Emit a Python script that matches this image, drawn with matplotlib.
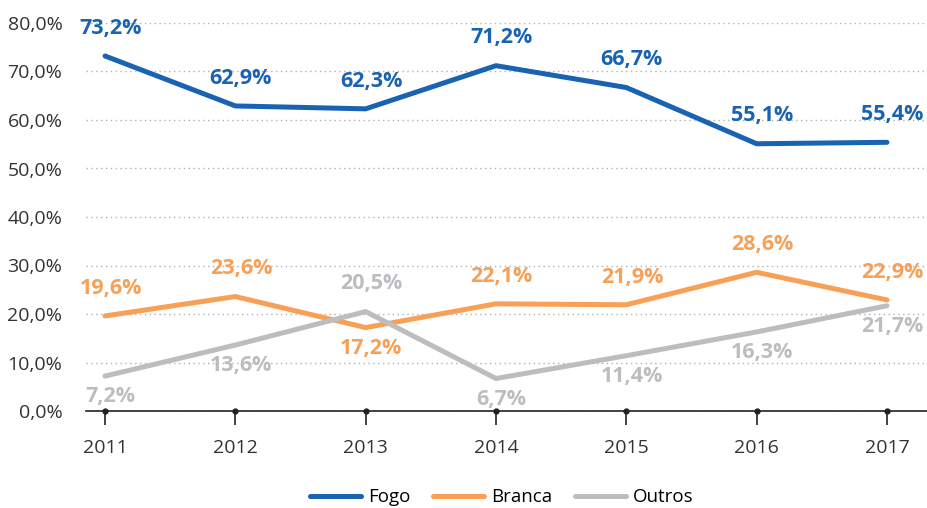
import matplotlib
matplotlib.use("Agg")
import matplotlib.pyplot as plt
from matplotlib.ticker import FuncFormatter

plt.rcParams['font.family'] = ['Open Sans', 'DejaVu Sans']

years = ['2011', '2012', '2013', '2014', '2015', '2016', '2017']
fogo = [73.2, 62.9, 62.3, 71.2, 66.7, 55.1, 55.4]
branca = [19.6, 23.6, 17.2, 22.1, 21.9, 28.6, 22.9]
outros = [7.2, 13.6, 20.5, 6.7, 11.4, 16.3, 21.7]

# label placement: 1 = above the point, -1 = below
fogo_pos = [1, 1, 1, 1, 1, 1, 1]
branca_pos = [1, 1, -1, 1, 1, 1, 1]
outros_pos = [-1, -1, 1, -1, -1, -1, -1]

c_fogo = '#1a63b2'
c_branca = '#f8a055'
c_outros = '#bdbdc1'

fig = plt.figure(figsize=(9.28, 5.08), dpi=100)
ax = fig.add_axes([86 / 928, 1 - 411 / 508, 1 - 86 / 928, (411 - 23) / 508])

x = list(range(len(years)))
series = [(fogo, fogo_pos, c_fogo, 'Fogo'),
          (branca, branca_pos, c_branca, 'Branca'),
          (outros, outros_pos, c_outros, 'Outros')]

for vals, pos, col, name in series:
    ax.plot(x, vals, color=col, lw=3.6, solid_capstyle='round',
            solid_joinstyle='round', label=name, zorder=3)
    for xi, v, p in zip(x, vals, pos):
        off = 20 if p > 0 else -15
        ax.annotate(f'{v:.1f}%'.replace('.', ','), (xi, v),
                    xytext=(4, off), textcoords='offset points',
                    ha='center', va='center', color=col,
                    fontsize=15.5, fontweight='bold', zorder=4,
                    annotation_clip=False)

ax.set_xlim(-0.146, 6.315)
ax.set_ylim(0, 80)
ax.set_yticks(range(0, 81, 10))
ax.yaxis.set_major_formatter(FuncFormatter(lambda v, _: f'{v:.1f}%'.replace('.', ',')))
ax.set_xticks(x)
ax.set_xticklabels(years)

ax.grid(axis='y', color='#b0b0b0', linestyle=(0, (1, 2.5)), lw=1)
ax.set_axisbelow(True)
for s in ['top', 'right', 'left']:
    ax.spines[s].set_visible(False)
ax.spines['bottom'].set_color('#222222')
ax.spines['bottom'].set_linewidth(1.2)
ax.tick_params(axis='y', length=0, pad=17, labelsize=14, labelcolor='#333333')
ax.tick_params(axis='x', length=10, width=1.2, color='#222222', pad=10,
               labelsize=14, labelcolor='#333333')
ax.plot(x, [0] * len(x), 'o', color='#222222', ms=3.5, clip_on=False, zorder=5)

fig.legend(loc='lower center', bbox_to_anchor=(0.541, -0.03), ncol=3,
           frameon=False, fontsize=13.5, handlelength=2.7, columnspacing=1.2,
           handletextpad=0.4)

fig.savefig('out.png', dpi=100)
